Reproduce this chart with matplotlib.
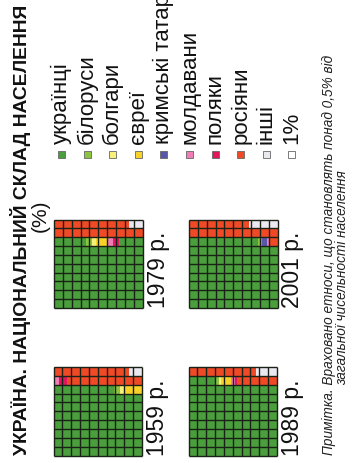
import matplotlib.pyplot as plt
import matplotlib.patches as mpatches
from matplotlib import font_manager

W, H = 353, 464

title = "УКРАЇНА. НАЦІОНАЛЬНИЙ СКЛАД НАСЕЛЕННЯ"
unit = "(%)"
note_1 = "Примітка. Враховано етноси, що становлять понад 0,5% від"
note_2 = "загальної чисельності населення"

groups = ["українці", "білоруси", "болгари", "євреї", "кримські татари",
          "молдавани", "поляки", "росіяни", "інші", "1%"]
group_colors = ["#4a9e3b", "#8cc43e", "#f7f17c", "#f8d226", "#5a57ab",
                "#f07db6", "#e0175c", "#ef4a25", "#ebe8f0", "#ffffff"]

years = ["1959 р.", "1979 р.", "1989 р.", "2001 р."]

# fill order of each waffle: bottom row first, left to right (values in %)
order_1959 = ["українці", "білоруси", "болгари", "євреї", "молдавани",
              "поляки", "росіяни", "інші"]
values_1959 = [76.8, 0.7, 0.5, 2.0, 0.6, 0.9, 17.0, 1.5]

order_1979 = ["українці", "білоруси", "болгари", "євреї", "молдавани",
              "поляки", "українці", "росіяни", "інші"]
values_1979 = [73.6, 0.7, 0.4, 1.4, 0.6, 0.6, 2.7, 18.5, 1.5]

order_1989 = ["українці", "білоруси", "болгари", "євреї", "молдавани",
              "поляки", "росіяни", "інші"]
values_1989 = [83.0, 0.5, 0.2, 1.1, 0.5, 0.2, 12.1, 2.4]

order_2001 = ["українці", "білоруси", "болгари", "кримські татари",
              "молдавани", "росіяни", "інші"]
values_2001 = [77.8, 0.4, 0.1, 0.5, 0.4, 17.6, 3.2]

color_of = dict(zip(groups, group_colors))
grid_color = "#1a2117"


def has_font(name):
    try:
        font_manager.findfont(font_manager.FontProperties(family=name),
                              fallback_to_default=False)
        return True
    except ValueError:
        return False


narrow = "Liberation Sans Narrow" if has_font("Liberation Sans Narrow") else "Liberation Sans"
plt.rcParams["font.family"] = ["Liberation Sans", "DejaVu Sans"]

fig = plt.figure(figsize=(W / 100, H / 100), dpi=100)
fig.patch.set_facecolor("white")

# overlay axes in pixel coordinates of the picture
bg = fig.add_axes([0, 0, 1, 1])
bg.set_xlim(0, W)
bg.set_ylim(H, 0)
bg.axis("off")


def draw_waffle(x0, y0, size, order, values):
    ax = fig.add_axes([x0 / W, 1 - (y0 + size) / H, size / W, size / H])
    ax.set_xlim(0, 10)
    ax.set_ylim(0, 10)
    ax.axis("off")
    start = 0.0
    for name, val in zip(order, values):
        end = round(start + val, 6)
        a = start
        while a < end - 1e-6:
            row = int(a // 10 + 1e-9)
            b = min(end, (row + 1) * 10)
            ax.add_patch(mpatches.Rectangle((a - row * 10, row), b - a, 1,
                                            facecolor=color_of[name],
                                            edgecolor="none"))
            a = round(b, 6)
        start = end
    for k in range(11):
        ax.plot([k, k], [0, 10], color=grid_color, lw=1.0, clip_on=False,
                solid_capstyle="butt")
        ax.plot([0, 10], [k, k], color=grid_color, lw=1.0, clip_on=False,
                solid_capstyle="butt")
    return ax


size = 88.5
layout = [(53.5, 368.0), (54.0, 220.5), (188.5, 368.0), (189.0, 220.5)]
data = [(order_1959, values_1959), (order_1979, values_1979),
        (order_1989, values_1989), (order_2001, values_2001)]

for (x0, y0), (order, vals), year in zip(layout, data, years):
    draw_waffle(x0, y0, size, order, vals)
    bg.text(x0 + size + 22, y0 + size - 0.5, year, rotation=90,
            rotation_mode="anchor", ha="left", va="baseline",
            fontsize=16.5, color="#111111")

# legend
for i, (name, col) in enumerate(zip(groups, group_colors)):
    cx = 61.5 + 25.6 * i
    bg.add_patch(mpatches.Rectangle((cx - 3.5, 151.5), 7, 7, facecolor=col,
                                    edgecolor="#666666", lw=0.6))
    bg.text(cx + 5.5, 144.5, name, rotation=90, rotation_mode="anchor",
            ha="left", va="baseline", fontsize=16, color="#111111")

# title, fitted to its length in the picture
t = bg.text(27, 455, title, rotation=90, rotation_mode="anchor", ha="left",
            va="baseline", fontsize=16, fontweight="bold", color="#111111",
            family=[narrow, "DejaVu Sans"])
bg.text(40, 216, unit, rotation=90, rotation_mode="anchor", ha="center",
        va="center", fontsize=15, color="#111111")

n1 = bg.text(333, 455, note_1, rotation=90, rotation_mode="anchor", ha="left",
             va="baseline", fontsize=10.5, style="italic", color="#222222")

renderer = fig.canvas.get_renderer()
for txt, target in [(t, 453.0), (n1, 400.0)]:
    ext = txt.get_window_extent(renderer)
    txt.set_fontsize(txt.get_fontsize() * target / ext.height)

bg.text(346, 278, note_2, rotation=90, rotation_mode="anchor", ha="center",
        va="baseline", fontsize=n1.get_fontsize(), style="italic",
        color="#222222")

fig.savefig("out.png", dpi=100, facecolor="white")
